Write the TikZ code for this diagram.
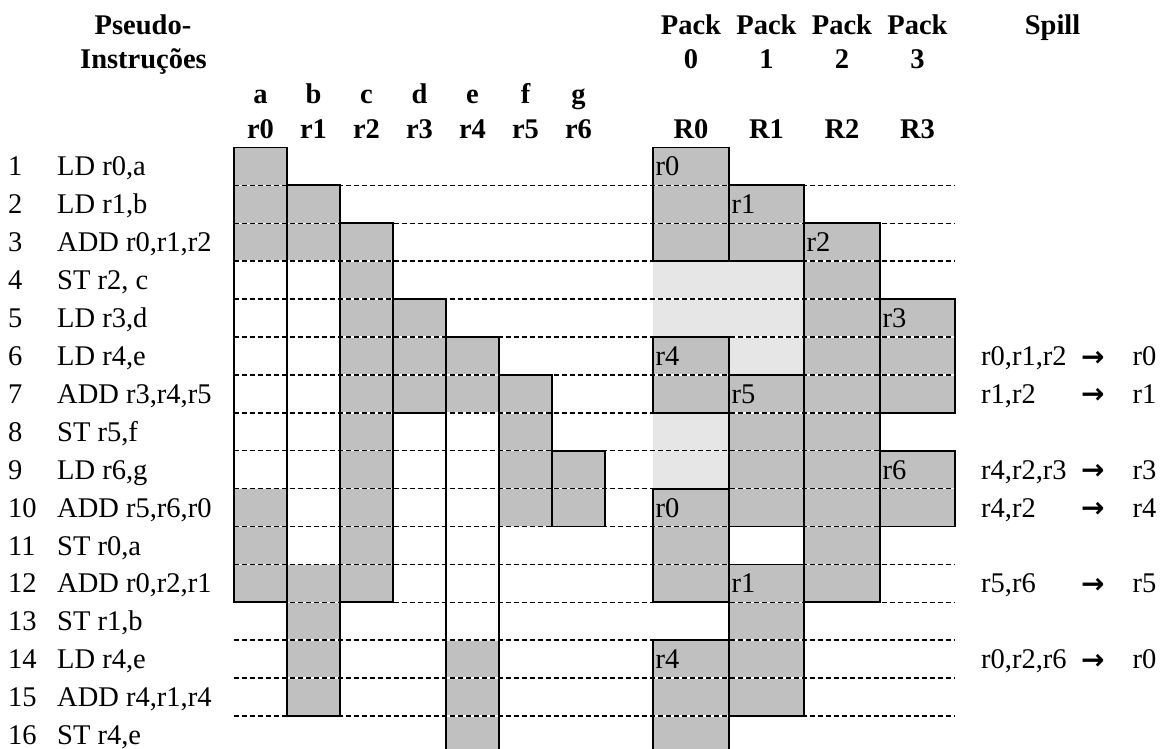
\documentclass[tikz,border=0pt]{standalone}
\usepackage{fontspec}
\setmainfont{Liberation Serif}
\newfontfamily\arrowfont{DejaVu Sans}
\usepackage{tikz}
\definecolor{LiveGray}{RGB}{192,192,192}
\definecolor{FreeGray}{RGB}{230,230,230}
\newcommand{\tablesize}{\fontsize{28.5}{34}\selectfont}
\newcommand{\spillarrow}{{\arrowfont\bfseries\fontsize{28}{30}\selectfont →}}
\tikzset{
  livecell/.style={fill=LiveGray},
  freecell/.style={fill=FreeGray},
  rowgap/.style={draw=white, line width=1.5pt},
  rowline/.style={draw=black, line width=1.5pt, dash pattern=on 4.5pt off 3.5pt},
  lifebox/.style={draw=black, line width=1.8pt},
  insttext/.style={anchor=base west, inner sep=0pt},
  headtext/.style={anchor=base, inner sep=0pt, font=\tablesize\bfseries},
  regtag/.style={anchor=base west, inner sep=0pt},
}
% register blocks of the packs (x1/y1/x2/y2)
\def\packblocks{653/147.5/729/261.2, 653/337.0/729/412.8, 653/488.6/729/602.3, 653/640.2/729/753.9,
  729/185.4/804/261.2, 729/374.9/804/526.5, 729/564.4/804/716.0,
  804/223.3/880/602.3,
  880/299.1/955/412.8, 880/450.7/955/526.5}

\begin{document}
\begin{tikzpicture}[x=1pt, y=-1pt, every node/.style={font=\tablesize}]
  \useasboundingbox (0,0) rectangle (1163,749);

  % live ranges of r0..r6
  \fill[livecell] (234,147.5) rectangle (287,261.2);
  \fill[livecell] (234,488.6) rectangle (287,602.3);
  \fill[livecell] (287,185.4) rectangle (340,261.2);
  \fill[livecell] (287,564.4) rectangle (340,716.0);
  \fill[livecell] (340,223.3) rectangle (393,602.3);
  \fill[livecell] (393,299.1) rectangle (446,412.8);
  \fill[livecell] (446,337.0) rectangle (499,412.8);
  \fill[livecell] (446,640.2) rectangle (499,753.9);
  \fill[livecell] (499,374.9) rectangle (552,526.5);
  \fill[livecell] (552,450.7) rectangle (605,526.5);

  % packs
  \foreach \xa/\ya/\xb/\yb in \packblocks
    \fill[livecell] (\xa,\ya) rectangle (\xb,\yb);
  \fill[freecell] (653,261.2) rectangle (804,337.0);
  \fill[freecell] (729,337.0) rectangle (804,374.9);
  \fill[freecell] (653,412.8) rectangle (729,488.6);

  % instruction rows
  \foreach \y in {185.4,223.3,261.2,299.1,337.0,374.9,412.8,450.7,488.6,526.5,564.4,602.3,640.2,678.1,716.0} {
    \draw[rowgap] (234,\y) -- (955,\y);
    \draw[rowline] (234,\y) -- (955,\y);
  }

  \draw[lifebox] (234,147.5) rectangle (287,602.3);
  \draw[lifebox] (287,185.4) rectangle (340,716.0);
  \draw[lifebox] (340,223.3) rectangle (393,602.3);
  \draw[lifebox] (393,299.1) rectangle (446,412.8);
  \draw[lifebox] (446,337.0) rectangle (499,753.9);
  \draw[lifebox] (499,374.9) -- (552,374.9) -- (552,526.5);
  \draw[lifebox] (552,450.7) rectangle (605,526.5);
  \foreach \xa/\ya/\xb/\yb in \packblocks
    \draw[lifebox] (\xa,\ya) rectangle (\xb,\yb);

  % headers
  \node[headtext] (pseudo) at (143,35) {Pseudo-};
  \node[headtext] (instr) at (143.5,68.3) {Instruções};
  \node[headtext] (va) at (260.5,103.3) {a};
  \node[headtext] (vb) at (313.5,103.3) {b};
  \node[headtext] (vc) at (366.5,103.3) {c};
  \node[headtext] (vd) at (419.5,103.3) {d};
  \node[headtext] (ve) at (472.5,103.3) {e};
  \node[headtext] (vf) at (525.5,103.3) {f};
  \node[headtext] (vg) at (578.5,103.3) {g};
  \node[headtext] (hr0) at (260.5,138.3) {r0};
  \node[headtext] (hr1) at (313.5,138.3) {r1};
  \node[headtext] (hr2) at (366.5,138.3) {r2};
  \node[headtext] (hr3) at (419.5,138.3) {r3};
  \node[headtext] (hr4) at (472.5,138.3) {r4};
  \node[headtext] (hr5) at (525.5,138.3) {r5};
  \node[headtext] (hr6) at (578.5,138.3) {r6};
  \node[headtext] (pk0) at (691,35) {Pack};
  \node[headtext] (pk1) at (766.5,35) {Pack};
  \node[headtext] (pk2) at (842,35) {Pack};
  \node[headtext] (pk3) at (917.5,35) {Pack};
  \node[headtext] (pn0) at (691,68.3) {0};
  \node[headtext] (pn1) at (766.5,68.3) {1};
  \node[headtext] (pn2) at (842,68.3) {2};
  \node[headtext] (pn3) at (917.5,68.3) {3};
  \node[headtext] (hR0) at (691,138.3) {R0};
  \node[headtext] (hR1) at (766.5,138.3) {R1};
  \node[headtext] (hR2) at (842,138.3) {R2};
  \node[headtext] (hR3) at (917.5,138.3) {R3};
  \node[headtext] (spill) at (1052.6,35) {Spill};

  % instructions
  \node[insttext] (n1) at (8,176.0) {1};
  \node[insttext] (i1) at (57,176.0) {LD r0,a};
  \node[insttext] (n2) at (8,213.9) {2};
  \node[insttext] (i2) at (57,213.9) {LD r1,b};
  \node[insttext] (n3) at (8,251.8) {3};
  \node[insttext] (i3) at (57,251.8) {ADD r0,r1,r2};
  \node[insttext] (n4) at (8,289.7) {4};
  \node[insttext] (i4) at (57,289.7) {ST r2, c};
  \node[insttext] (n5) at (8,327.6) {5};
  \node[insttext] (i5) at (57,327.6) {LD r3,d};
  \node[insttext] (n6) at (8,365.5) {6};
  \node[insttext] (i6) at (57,365.5) {LD r4,e};
  \node[insttext] (n7) at (8,403.4) {7};
  \node[insttext] (i7) at (57,403.4) {ADD r3,r4,r5};
  \node[insttext] (n8) at (8,441.3) {8};
  \node[insttext] (i8) at (57,441.3) {ST r5,f};
  \node[insttext] (n9) at (8,479.2) {9};
  \node[insttext] (i9) at (57,479.2) {LD r6,g};
  \node[insttext] (n10) at (8,517.1) {10};
  \node[insttext] (i10) at (57,517.1) {ADD r5,r6,r0};
  \node[insttext] (n11) at (8,555.0) {11};
  \node[insttext] (i11) at (57,555.0) {ST r0,a};
  \node[insttext] (n12) at (8,592.9) {12};
  \node[insttext] (i12) at (57,592.9) {ADD r0,r2,r1};
  \node[insttext] (n13) at (8,630.8) {13};
  \node[insttext] (i13) at (57,630.8) {ST r1,b};
  \node[insttext] (n14) at (8,668.7) {14};
  \node[insttext] (i14) at (57,668.7) {LD r4,e};
  \node[insttext] (n15) at (8,706.6) {15};
  \node[insttext] (i15) at (57,706.6) {ADD r4,r1,r4};
  \node[insttext] (n16) at (8,744.5) {16};
  \node[insttext] (i16) at (57,744.5) {ST r4,e};

  % registers placed in the packs
  \node[regtag] (t1) at (655.5,176.0) {r0};
  \node[regtag] (t2) at (731.5,213.9) {r1};
  \node[regtag] (t3) at (806.5,251.8) {r2};
  \node[regtag] (t5) at (882.5,327.6) {r3};
  \node[regtag] (t6) at (655.5,365.5) {r4};
  \node[regtag] (t7) at (731.5,403.4) {r5};
  \node[regtag] (t9) at (882.5,479.2) {r6};
  \node[regtag] (t10) at (655.5,517.1) {r0};
  \node[regtag] (t12) at (731.5,592.9) {r1};
  \node[regtag] (t14) at (655.5,668.7) {r4};

  % spill
  \node[insttext] (s6) at (981,365.5) {r0,r1,r2};
  \node[insttext] (a6) at (1081,366.0) {\spillarrow};
  \node[insttext] (d6) at (1132.5,365.5) {r0};
  \node[insttext] (s7) at (981,403.4) {r1,r2};
  \node[insttext] (a7) at (1081,403.9) {\spillarrow};
  \node[insttext] (d7) at (1132.5,403.4) {r1};
  \node[insttext] (s9) at (981,479.2) {r4,r2,r3};
  \node[insttext] (a9) at (1081,479.7) {\spillarrow};
  \node[insttext] (d9) at (1132.5,479.2) {r3};
  \node[insttext] (s10) at (981,517.1) {r4,r2};
  \node[insttext] (a10) at (1081,517.6) {\spillarrow};
  \node[insttext] (d10) at (1132.5,517.1) {r4};
  \node[insttext] (s12) at (981,592.9) {r5,r6};
  \node[insttext] (a12) at (1081,593.4) {\spillarrow};
  \node[insttext] (d12) at (1132.5,592.9) {r5};
  \node[insttext] (s14) at (981,668.7) {r0,r2,r6};
  \node[insttext] (a14) at (1081,669.2) {\spillarrow};
  \node[insttext] (d14) at (1132.5,668.7) {r0};
\end{tikzpicture}
\end{document}
